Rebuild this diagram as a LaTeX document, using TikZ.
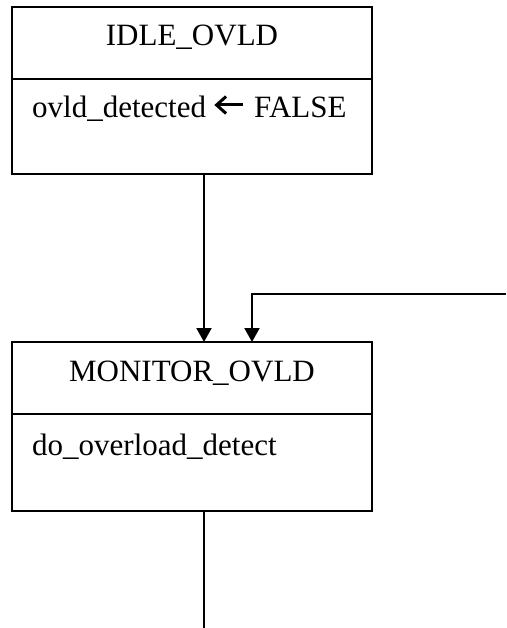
\documentclass[tikz,border=0pt]{standalone}
\usepackage{fontspec}
\setmainfont{Liberation Serif}
\usetikzlibrary{arrows.meta}
\begin{document}
\begin{tikzpicture}[x=1pt,y=1pt,
  statebox/.style={draw=black, line width=2pt, minimum width=360pt, inner sep=0pt, outer sep=0pt},
  titletext/.style={inner sep=0pt, anchor=base, font=\fontsize{31}{37}\selectfont},
  bodytext/.style={inner sep=0pt, anchor=base west, font=\fontsize{31}{37}\selectfont},
  conn/.style={line width=2pt, -{Triangle[length=14pt,width=15pt]}},
  plainconn/.style={line width=2pt}
]
\useasboundingbox (0,0) rectangle (506,-628);
% boxes
\node[statebox, minimum height=167pt] (idle) at (192,-90.5) {};
\node[statebox, minimum height=169pt] (mon) at (192,-426.5) {};
% dividers
\draw[line width=2pt] ([yshift=-72pt]idle.north west) -- ([yshift=-72pt]idle.north east);
\draw[line width=2pt] ([yshift=-72pt]mon.north west) -- ([yshift=-72pt]mon.north east);
% texts
\node[titletext] (idletitle) at (192,-46) {IDLE\_OVLD};
\node[bodytext] (idlebody) at (32,-118) {ovld\_detected\hspace{10pt}\tikz[baseline=-13pt]{\useasboundingbox (0,-8) rectangle (27,8); \draw[line width=3pt, line cap=butt, line join=miter] (10,8.5) -- (0.5,0) -- (10,-8.5); \draw[line width=3pt] (1.5,0) -- (27,0);}\hspace{11pt}FALSE};
\node[titletext] (montitle) at (192,-381) {MONITOR\_OVLD};
\node[bodytext] (monbody) at (32,-455) {do\_overload\_detect};
% connectors
\coordinate (loopin) at (506,-294);
\coordinate (exitend) at (204,-628);
\draw[conn] ([xshift=12pt]idle.south) -- ([xshift=12pt]mon.north);
\draw[conn] (loopin) -| ([xshift=60pt]mon.north);
\draw[plainconn] ([xshift=12pt]mon.south) -- (exitend);
\end{tikzpicture}
\end{document}
